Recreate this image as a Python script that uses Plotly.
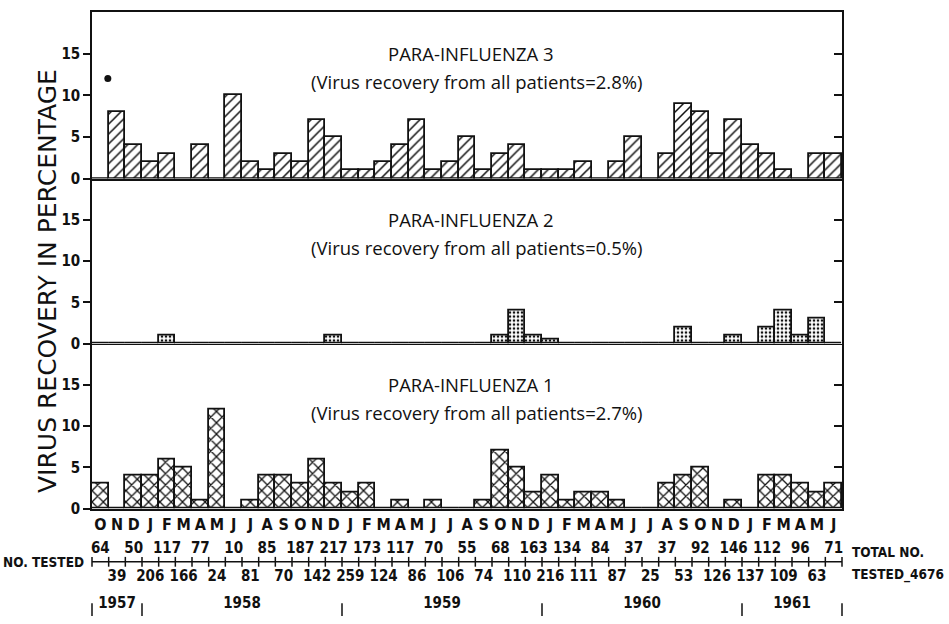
import plotly.graph_objects as go

# ---------------- data ----------------
months = ["O", "N", "D",
          "J", "F", "M", "A", "M", "J", "J", "A", "S", "O", "N", "D",
          "J", "F", "M", "A", "M", "J", "J", "A", "S", "O", "N", "D",
          "J", "F", "M", "A", "M", "J", "J", "A", "S", "O", "N", "D",
          "J", "F", "M", "A", "M", "J"]

pi3 = [0, 8, 4, 2, 3, 0, 4, 0, 10, 2, 1, 3, 2, 7, 5, 1, 1, 2, 4, 7, 1, 2, 5,
       1, 3, 4, 1, 1, 1, 2, 0, 2, 5, 0, 3, 9, 8, 3, 7, 4, 3, 1, 0, 3, 3]
pi2 = [0, 0, 0, 0, 1, 0, 0, 0, 0, 0, 0, 0, 0, 0, 1, 0, 0, 0, 0, 0, 0, 0, 0,
       0, 1, 4, 1, 0.5, 0, 0, 0, 0, 0, 0, 0, 2, 0, 0, 1, 0, 2, 4, 1, 3, 0]
pi1 = [3, 0, 4, 4, 6, 5, 1, 12, 0, 1, 4, 4, 3, 6, 3, 2, 3, 0, 1, 0, 1, 0, 0,
       1, 7, 5, 2, 4, 1, 2, 2, 1, 0, 0, 3, 4, 5, 0, 1, 0, 4, 4, 3, 2, 3]

pi3_dot_x = [0.45]
pi3_dot_y = [12]

no_tested = [64, 39, 50, 206, 117, 166, 77, 24, 10, 81, 85, 70, 187, 142, 217,
             259, 173, 124, 117, 86, 70, 106, 55, 74, 68, 110, 163, 216, 134,
             111, 84, 87, 37, 25, 37, 53, 92, 126, 146, 137, 112, 109, 96, 63, 71]

years = ["1957", "1958", "1959", "1960", "1961"]
year_first_month = [0, 3, 15, 27, 39]
year_last_month = [2, 14, 26, 38, 44]

panel_titles = ["PARA-INFLUENZA 3", "PARA-INFLUENZA 2", "PARA-INFLUENZA 1"]
panel_subtitles = ["(Virus recovery from all patients=2.8%)",
                   "(Virus recovery from all patients=0.5%)",
                   "(Virus recovery from all patients=2.7%)"]

y_ticks_left = [0, 5, 10, 15]
y_ticks_right = [5, 10, 15]

# ---------------- styling ----------------
W, H = 949, 624
NARROW = "Liberation Sans Narrow, Arial Narrow, DejaVu Sans Condensed, Liberation Sans, sans-serif"
GEO = "Open Sans, Lato, sans-serif"
BLACK = "#111111"

idx = list(range(len(months)))
boundaries = [i - 0.5 for i in range(len(months) + 1)]

fig = go.Figure()

series = [(pi3, "/", 7, 0.22, "y"), (pi2, ".", 4, 0.35, "y2"), (pi1, "x", 8, 0.3, "y3")]
xrefs = {"y": "x", "y2": "x2", "y3": "x3"}
for vals, shape, psize, sol, yax in series:
    fig.add_trace(go.Bar(
        x=idx, y=vals, width=1.0, xaxis=xrefs[yax], yaxis=yax,
        marker=dict(color="white",
                    line=dict(color=BLACK, width=1.8),
                    pattern=dict(shape=shape, size=psize, solidity=sol,
                                 fgcolor=BLACK, bgcolor="white", fillmode="replace")),
        showlegend=False, hoverinfo="skip"))

fig.add_trace(go.Scatter(x=pi3_dot_x, y=pi3_dot_y, mode="markers", xaxis="x", yaxis="y",
                         marker=dict(color=BLACK, size=7), showlegend=False))

# empty traces so the right-hand overlay axes get drawn
for xa, ya in [("x", "y5"), ("x2", "y6"), ("x3", "y7")]:
    fig.add_trace(go.Scatter(x=[None], y=[None], xaxis=xa, yaxis=ya, mode="markers",
                             showlegend=False, hoverinfo="skip"))

# ---- number tested row (axis 4) ----
NUM_FONT = dict(family=NARROW, size=15, color=BLACK, weight="bold")
LINE_Y, ABOVE_Y, BELOW_Y, YEAR_Y, SEP_Y = 54, 67, 38, 11, 5.5
fig.add_trace(go.Scatter(
    x=boundaries, y=[LINE_Y] * len(boundaries), mode="lines+markers",
    xaxis="x4", yaxis="y4",
    line=dict(color=BLACK, width=1.5),
    marker=dict(symbol="line-ns", size=7, line=dict(color=BLACK, width=1.5)),
    showlegend=False, hoverinfo="skip", cliponaxis=False))
fig.add_trace(go.Scatter(
    x=idx[0::2], y=[ABOVE_Y] * len(idx[0::2]), mode="text",
    text=[str(v) for v in no_tested[0::2]], xaxis="x4", yaxis="y4",
    textfont=NUM_FONT, showlegend=False, cliponaxis=False))
fig.add_trace(go.Scatter(
    x=idx[1::2], y=[BELOW_Y] * len(idx[1::2]), mode="text",
    text=[str(v) for v in no_tested[1::2]], xaxis="x4", yaxis="y4",
    textfont=NUM_FONT, showlegend=False, cliponaxis=False))
year_centers = [(a + b) / 2 for a, b in zip(year_first_month, year_last_month)]
fig.add_trace(go.Scatter(
    x=year_centers, y=[YEAR_Y] * len(years), mode="text", text=years,
    xaxis="x4", yaxis="y4", textfont=NUM_FONT, showlegend=False, cliponaxis=False))
year_seps = [year_first_month[0] - 0.5] + [b + 0.5 for b in year_last_month]
fig.add_trace(go.Scatter(
    x=year_seps, y=[SEP_Y] * len(year_seps), mode="markers",
    xaxis="x4", yaxis="y4",
    marker=dict(symbol="line-ns", size=9, line=dict(color=BLACK, width=1.5)),
    showlegend=False, hoverinfo="skip", cliponaxis=False))

# ---------------- layout ----------------
top_m, bot_m = 12, 0
ph = H - top_m - bot_m
def frac(ypx):
    return (H - bot_m - ypx) / ph

d3 = [frac(181), 1.0]
d2 = [frac(348.5), frac(181)]
d1 = [frac(516), frac(348.5)]
d4 = [0.0, frac(536)]

xr = [-0.5, len(months) - 0.5]
common_x = dict(range=xr, showgrid=False, zeroline=False, fixedrange=True)
yleft = dict(range=[0, 20], tickvals=y_ticks_left, ticks="outside", ticklen=7,
             tickwidth=1.5, tickcolor=BLACK, showline=True, linecolor=BLACK,
             linewidth=1.5, showgrid=False, zeroline=False, fixedrange=True,
             tickfont=dict(family=NARROW, size=15, color=BLACK, weight="bold"))
yright = dict(range=[0, 20], tickvals=y_ticks_right, ticks="inside", ticklen=8,
              tickwidth=1.5, tickcolor=BLACK, showline=True, linecolor=BLACK,
              linewidth=1.5, showgrid=False, zeroline=False, showticklabels=False,
              side="right", fixedrange=True)

fig.update_layout(
    width=W, height=H,
    margin=dict(l=92, r=107, t=top_m, b=bot_m),
    paper_bgcolor="white", plot_bgcolor="white",
    bargap=0, barmode="overlay",
    xaxis=dict(**common_x, anchor="y", showline=True, mirror=True, linecolor=BLACK,
               linewidth=1.5, showticklabels=False, ticks=""),
    xaxis2=dict(**common_x, anchor="y2", matches="x", showline=True, linecolor=BLACK,
                linewidth=1.2, showticklabels=False, ticks=""),
    xaxis3=dict(**common_x, anchor="y3", matches="x", showline=True, linecolor=BLACK,
                linewidth=1.8, ticks="", tickmode="array", tickvals=idx, ticktext=months,
                tickfont=dict(family=NARROW, size=16, color=BLACK, weight="bold")),
    xaxis4=dict(**common_x, anchor="y4", matches="x", visible=False),
    yaxis=dict(**yleft, domain=d3, anchor="x"),
    yaxis2=dict(**yleft, domain=d2, anchor="x2"),
    yaxis3=dict(**yleft, domain=d1, anchor="x3"),
    yaxis4=dict(domain=d4, range=[0, H - 536], anchor="x4", visible=False, fixedrange=True),
    yaxis5=dict(**yright, overlaying="y", anchor="x"),
    yaxis6=dict(**yright, overlaying="y2", anchor="x2"),
    yaxis7=dict(**yright, overlaying="y3", anchor="x3"),
)

annotations = []
for k, yref in enumerate(["y", "y2", "y3"]):
    annotations.append(dict(x=0.505, xref="paper", xanchor="center", y=15, yref=yref,
                            yanchor="middle", text=panel_titles[k], showarrow=False,
                            font=dict(family=GEO, size=18.5, color=BLACK)))
    annotations.append(dict(x=0.513, xref="paper", xanchor="center", y=11.7, yref=yref,
                            yanchor="middle", text=panel_subtitles[k], showarrow=False,
                            font=dict(family=GEO, size=18.5, color=BLACK)))
annotations.append(dict(x=(48 - 92) / 750, xref="paper", xanchor="center",
                        y=(frac(58) + frac(512)) / 2, yref="paper", yanchor="middle",
                        text="VIRUS RECOVERY IN PERCENTAGE", textangle=-90, showarrow=False,
                        font=dict(family="DejaVu Sans, sans-serif", size=25, color=BLACK)))
LBL_FONT = dict(family=NARROW, size=13.5, color=BLACK, weight="bold")
annotations.append(dict(x=(86 - 92) / 750, xref="paper", xanchor="right", y=frac(570),
                        yref="paper", yanchor="middle", text="NO. TESTED", showarrow=False,
                        font=LBL_FONT))
annotations.append(dict(x=(850 - 92) / 750, xref="paper", xanchor="left", y=frac(560),
                        yref="paper", yanchor="middle", text="TOTAL NO.", showarrow=False,
                        font=LBL_FONT))
annotations.append(dict(x=(850 - 92) / 750, xref="paper", xanchor="left", y=frac(583),
                        yref="paper", yanchor="middle", text="TESTED_4676", showarrow=False,
                        font=LBL_FONT))
fig.update_layout(annotations=annotations)

fig.write_html("out.html", config={"displayModeBar": False},
               post_script="document.body.style.margin='0px';")
